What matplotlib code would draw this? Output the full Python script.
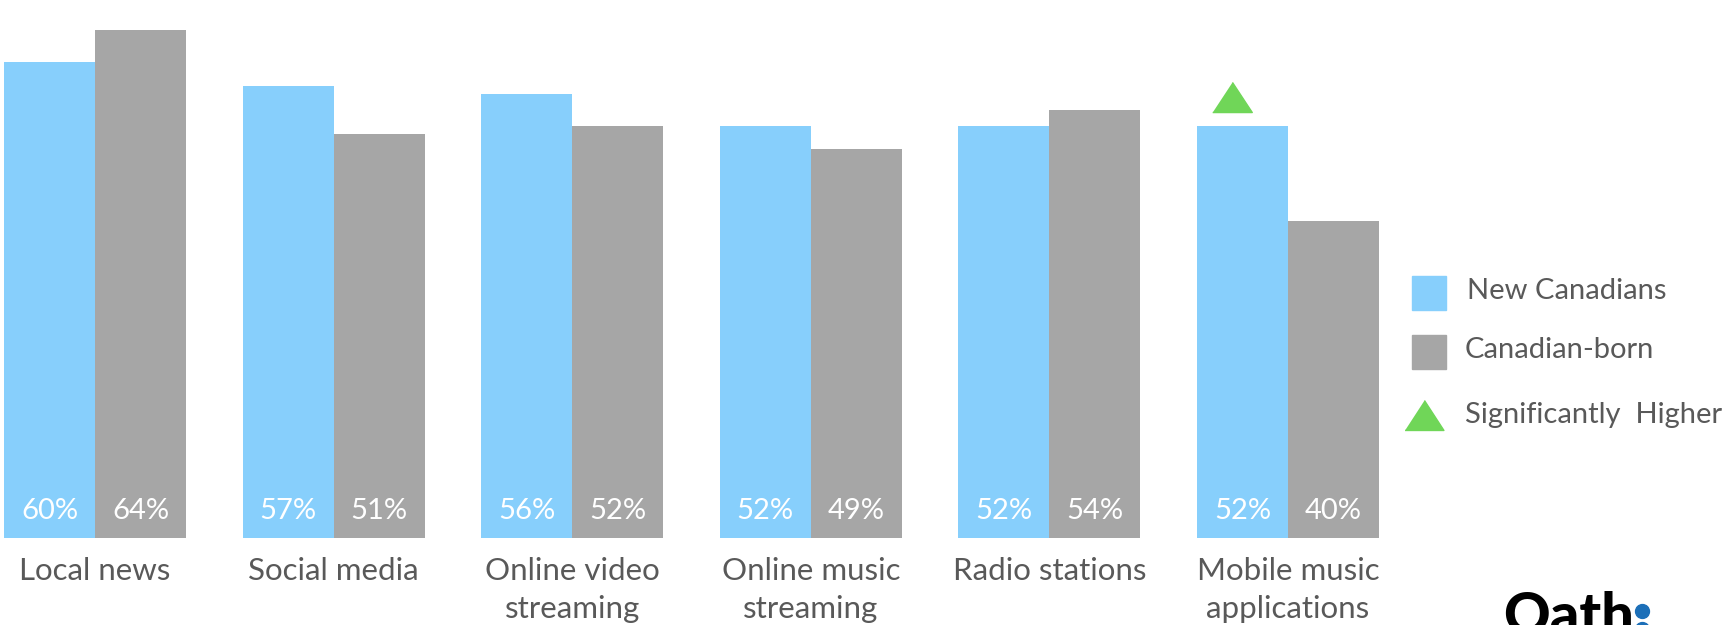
import matplotlib.pyplot as plt
from matplotlib.patches import Rectangle
import numpy as np

plt.rcParams['font.family'] = ['Lato', 'DejaVu Sans']

categories = ['Local news', 'Social media', 'Online video\nstreaming',
              'Online music\nstreaming', 'Radio stations', 'Mobile music\napplications']
new_canadians = [60, 57, 56, 52, 52, 52]
canadian_born = [64, 51, 52, 49, 54, 40]
significant = [False, False, False, False, False, True]

blue = '#87CFFC'
grey = '#A6A6A6'
green = '#70D658'
txt = '#595959'

W, H = 1724, 625
fig = plt.figure(figsize=(W / 100, H / 100), dpi=100)
ax = fig.add_axes([0, 0, 1, 1])
ax.axis('off')

# pixel layout -> data scale
pitch = 238.6
px_per = 7.93
base = 538
ax.set_xlim(-95 / pitch, (W - 95) / pitch)
ax.set_ylim(-(H - base) / px_per, base / px_per)

x = np.arange(len(categories))
w = 91 / pitch
ax.bar(x - w / 2, new_canadians, w, color=blue)
ax.bar(x + w / 2, canadian_born, w, color=grey)

for i in range(len(categories)):
    ax.text(x[i] - w / 2, 2.4, f'{new_canadians[i]}%', color='white',
            ha='center', va='baseline', fontsize=21)
    ax.text(x[i] + w / 2, 2.4, f'{canadian_born[i]}%', color='white',
            ha='center', va='baseline', fontsize=21)
    for j, line in enumerate(categories[i].split('\n')):
        ax.text(x[i], -5.3 - j * 4.8, line, color=txt, ha='center',
                va='baseline', fontsize=22.5)
    if significant[i]:
        ax.plot(x[i] - w / 2 - 0.045, new_canadians[i] + 3.6,
                marker=[(-1, -0.76), (1, -0.76), (0, 0.76)], markersize=28.5,
                color=green, linestyle='none')

# legend
def fx(p):
    return p / W

def fy(p):
    return 1 - p / H

fig.patches.append(Rectangle((fx(1412), fy(310)), fx(34), 34 / H, color=blue,
                             transform=fig.transFigure))
fig.patches.append(Rectangle((fx(1412), fy(369)), fx(34), 34 / H, color=grey,
                             transform=fig.transFigure))
fig.lines.append(plt.Line2D([fx(1424.5)], [fy(415)], marker=[(-1, -0.77), (1, -0.77), (0, 0.77)],
                            markersize=28, color=green, transform=fig.transFigure))
fig.text(fx(1467), fy(291), 'New Canadians', color=txt, fontsize=21, va='center')
fig.text(fx(1465), fy(350), 'Canadian-born', color=txt, fontsize=21, va='center')
fig.text(fx(1465), fy(415), 'Significantly  Higher', color=txt, fontsize=21, va='center')

# logo (cut off at the bottom edge, as in the source slide)
fig.text(fx(1503), fy(634), 'Oath', color='black', fontsize=41.5, fontweight='black',
         va='baseline', ha='left')
fig.lines.append(plt.Line2D([fx(1642), fx(1642)], [fy(611), fy(629)], marker='o',
                            markersize=10, color='#1C6FB8', linestyle='none',
                            transform=fig.transFigure))

fig.savefig('out.png', dpi=100)
